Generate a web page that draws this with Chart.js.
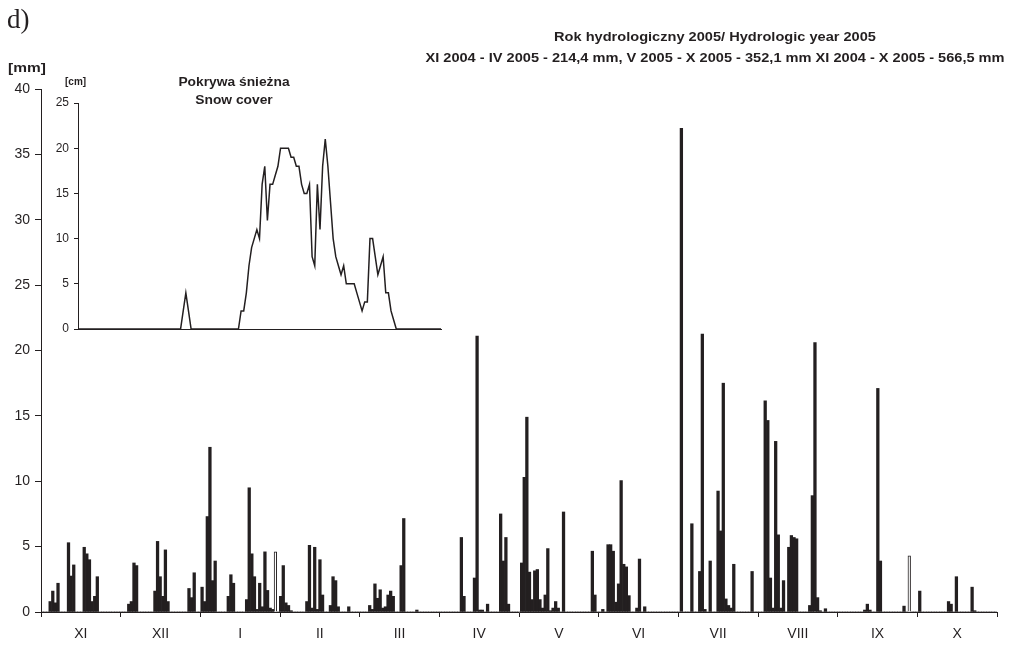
<!DOCTYPE html>
<html>
<head>
<meta charset="utf-8">
<script src="https://cdn.jsdelivr.net/npm/chart.js@4.4.1/dist/chart.umd.min.js"></script>
<style>
  body { margin: 0; background: #fff; }
  #wrap { position: relative; width: 1017px; height: 653px; font-family: "Liberation Sans", Arial, sans-serif; color: #231f20; }
  #wrap canvas { position: absolute; }
  .txt { position: absolute; white-space: nowrap; }
  .b { font-weight: bold; }
  .wide { transform: scaleX(1.15); transform-origin: 50% 50%; }
</style>
</head>
<body>
<div id="wrap">
  <canvas id="rainChart" width="1017" height="653" style="left:0;top:0"></canvas>
  <canvas id="snowChart" width="460" height="275" style="left:0;top:70px"></canvas>

  <div class="txt" style="left:7px;top:4px;font:27px 'Liberation Serif', serif;line-height:30px;">d)</div>
  <div class="txt b" style="left:8px;top:61px;font-size:13px;line-height:13px;transform:scaleX(1.19);transform-origin:0 50%;">[mm]</div>
  <div class="txt b wide" style="left:415px;width:600px;top:30px;font-size:12.7px;line-height:14px;text-align:center;">Rok hydrologiczny 2005/ Hydrologic year 2005</div>
  <div class="txt b wide" style="left:415px;width:600px;top:51px;font-size:12.7px;line-height:14px;text-align:center;">XI 2004 - IV 2005 - 214,4 mm, V 2005 - X 2005 - 352,1 mm XI 2004 - X 2005 - 566,5 mm</div>
  <div class="txt b" style="left:65px;top:76px;font-size:10px;line-height:11px;">[cm]</div>
  <div class="txt b wide" style="left:134px;width:200px;top:76px;font-size:12px;line-height:13px;text-align:center;">Pokrywa śnieżna</div>
  <div class="txt b wide" style="left:134px;width:200px;top:94px;font-size:12px;line-height:13px;text-align:center;">Snow cover</div>
</div>

<script>
'use strict'

// opady dobowe (dzień od 1 XI, mm)
const rainDay = [
  3, 4, 5, 6, 10, 11, 12, 16, 17, 18, 19, 20, 21,
  33, 34, 35, 36, 43, 44, 45, 46, 47, 48, 56, 57, 58,
  61, 62, 63, 64, 65, 66, 71, 72, 73,
  78, 79, 80, 81, 82, 83, 84, 85, 86, 87, 88, 89,
  91, 92, 93, 94, 95, 101, 102, 103, 104, 105, 106, 107,
  110, 111, 112, 113, 117,
  125, 126, 127, 128, 129, 130, 131, 132, 133, 134, 137, 138, 143,
  160, 161, 165, 166, 167, 168, 170, 175, 176, 177, 178,
  183, 184, 185, 186, 187, 188, 189, 190, 191, 192, 193, 194, 195, 196, 197, 199,
  210, 211, 214, 216, 217, 218, 219, 220, 221, 222, 223, 224, 227, 228, 230,
  244, 248, 251, 252, 253, 255, 258, 259, 260, 261, 262, 263, 264, 271,
  276, 277, 278, 279, 280, 281, 282, 283, 285, 286, 287, 288,
  293, 294, 295, 296, 297, 299,
  314, 315, 316, 319, 320, 329, 331, 335,
  346, 347, 349, 355, 356
];
const rainMm = [
  0.8, 1.6, 0.7, 2.2, 5.3, 2.75, 3.6, 4.95, 4.45, 4.0, 0.8, 1.2, 2.7,
  0.6, 0.8, 3.75, 3.55, 1.6, 5.4, 2.7, 1.2, 4.75, 0.8, 1.8, 1.1, 3.0,
  1.9, 0.8, 7.3, 12.6, 2.4, 3.9, 1.2, 2.85, 2.2,
  0.95, 9.5, 4.45, 2.7, 0.2, 2.2, 0.4, 4.6, 1.65, 0.3, 0.2, 4.6,
  1.2, 3.55, 0.7, 0.5, 0.1, 0.8, 5.1, 0.3, 4.95, 0.2, 4.0, 1.3,
  0.5, 2.7, 2.4, 0.4, 0.4,
  0.5, 0.2, 2.15, 1.05, 1.7, 0.3, 0.4, 1.3, 1.6, 1.2, 3.55, 7.15, 0.15,
  5.7, 1.2, 2.6, 21.1, 0.15, 0.15, 0.6, 7.5, 3.9, 5.7, 0.6,
  3.75, 10.3, 14.9, 3.05, 0.95, 3.15, 3.25, 0.95, 0.3, 1.3, 4.85, 0.1, 0.3, 0.8, 0.3, 7.65,
  4.65, 1.3, 0.2, 5.15, 5.15, 4.65, 0.75, 2.15, 10.05, 3.65, 3.45, 1.25, 0.3, 4.05, 0.4,
  37.0, 6.75, 3.1, 21.25, 0.2, 3.9, 9.25, 6.2, 17.5, 1.0, 0.5, 0.3, 3.65, 3.1,
  16.15, 14.65, 2.6, 0.3, 13.05, 5.9, 0.3, 2.4, 4.95, 5.85, 5.7, 5.6,
  0.5, 8.9, 20.6, 1.1, 0.1, 0.25,
  0.15, 0.6, 0.15, 17.1, 3.9, 0.45, 4.3, 1.6,
  0.8, 0.6, 2.7, 1.9, 0.1
];
// słupki bez wypełnienia
const hollowDays = [89, 331];

const months = ['XI', 'XII', 'I', 'II', 'III', 'IV', 'V', 'VI', 'VII', 'VIII', 'IX', 'X'];
const yearDays = 365;

// pokrywa śnieżna (cm), dzień od 1 XI
const snowCm = [
  0, 0, 0, 0, 0, 0, 0, 0, 0, 0, 0, 0, 0, 0, 0, 0, 0, 0, 0, 0,
  0, 0, 0, 0, 0, 0, 0, 0, 0, 0, 0, 0, 0, 0, 0, 0, 0, 0, 0, 0,
  2, 4, 2, 0, 0, 0, 0, 0, 0, 0, 0, 0, 0, 0, 0, 0, 0, 0, 0, 0,
  0, 0, 2, 2, 4, 7, 9, 10, 11, 10, 16, 18, 12, 16, 16, 17, 18, 20, 20, 20,
  20, 19, 19, 18, 18, 16, 15, 15, 16, 8, 7, 16, 11, 18, 21, 18, 14, 10, 8, 7,
  6, 7, 5, 5, 5, 5, 4, 3, 2, 3, 3, 10, 10, 8, 6, 7, 8, 4, 4, 2,
  1, 0, 0, 0, 0, 0, 0, 0, 0, 0, 0, 0, 0, 0, 0, 0, 0, 0, 0
];
const snowLabels = snowCm.map((v, i) => i);

const ink = '#231f20';

// opady
{
  const rainSeries = [];
  for (let i = 0; i < yearDays; i++) {
    const k = rainDay.indexOf(i);
    rainSeries.push({x: i + 0.5, y: k >= 0 ? rainMm[k] : 0});
  }

  const ctx = document.getElementById('rainChart');
  new Chart(ctx, {
    type: 'bar',
    data: {
      datasets: [{
        data: rainSeries,
        backgroundColor: c => hollowDays.includes(c.dataIndex) ? '#fff' : ink,
        borderColor: ink,
        borderWidth: c => hollowDays.includes(c.dataIndex) ? 1 : 0,
        barPercentage: 1.0,
        categoryPercentage: 1.0,
      }]
    },
    options: {
      responsive: false,
      animation: false,
      layout: { padding: { top: 89, right: 20, left: 0, bottom: 0 } },
      plugins: { legend: { display: false }, tooltip: { enabled: false } },
      scales: {
        x: {
          type: 'linear',
          offset: false,
          min: 0,
          max: yearDays,
          afterBuildTicks: axis => {
            const t = [];
            for (let i = 0; i <= 12; i++) {
              t.push({value: i * yearDays / 12});
              if (i < 12) t.push({value: (i + 0.5) * yearDays / 12});
            }
            axis.ticks = t;
          },
          afterFit: axis => { axis.height = 41; },
          ticks: {
            autoSkip: false,
            maxRotation: 0,
            padding: 9,
            color: ink,
            font: { family: 'Liberation Sans', size: 14 },
            callback: (value, index) => index % 2 === 1 ? months[(index - 1) / 2] : '',
          },
          grid: {
            drawOnChartArea: false,
            offset: false,
            tickLength: 5,
            color: c => c.index % 2 === 0 ? ink : 'rgba(0,0,0,0)',
          },
          border: { color: ink, width: 1 },
        },
        y: {
          min: 0,
          max: 40,
          afterFit: axis => { axis.width = 41; },
          ticks: {
            stepSize: 5,
            padding: 5,
            color: ink,
            font: { family: 'Liberation Sans', size: 14 },
          },
          grid: { drawOnChartArea: false, tickLength: 6, color: ink },
          border: { color: ink, width: 1 },
        }
      }
    }
  });
}

// pokrywa śnieżna
{
  const ctx = document.getElementById('snowChart');
  new Chart(ctx, {
    type: 'line',
    data: {
      labels: snowLabels,
      datasets: [{
        data: snowCm,
        borderColor: ink,
        borderWidth: 1.5,
        pointRadius: 0,
        tension: 0,
        fill: false,
      }]
    },
    options: {
      responsive: false,
      animation: false,
      layout: { padding: { top: 33, right: 19, left: 0, bottom: 0 } },
      plugins: { legend: { display: false }, tooltip: { enabled: false } },
      scales: {
        x: {
          offset: false,
          ticks: { display: false },
          grid: { display: false },
          afterFit: axis => { axis.height = 16; },
          border: { color: ink, width: 1 },
        },
        y: {
          min: 0,
          max: 25,
          afterFit: axis => { axis.width = 78; },
          ticks: {
            stepSize: 5,
            padding: 5,
            color: ink,
            font: { family: 'Liberation Sans', size: 12 },
          },
          grid: { drawOnChartArea: false, tickLength: 4, color: ink },
          border: { color: ink, width: 1 },
        }
      }
    }
  });
}
</script>
</body>
</html>
